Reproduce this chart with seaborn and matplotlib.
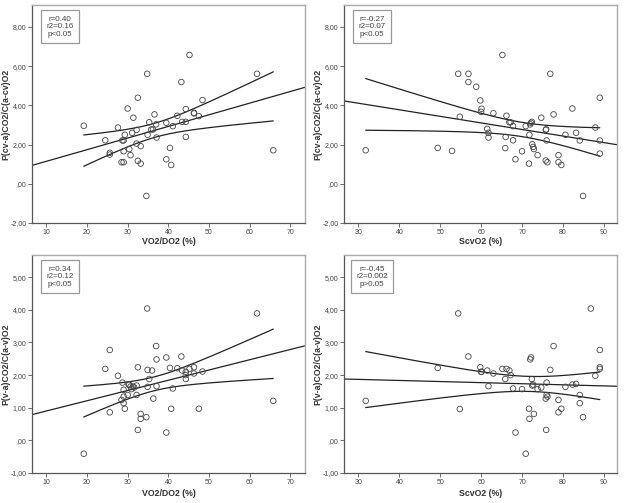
import numpy as np
import pandas as pd
import matplotlib
matplotlib.use("Agg")
import matplotlib.pyplot as plt
import seaborn as sns
from matplotlib.ticker import FuncFormatter, MultipleLocator

# ---------------- data ----------------
p1_x = [19.2, 24.5, 25.6, 25.6, 27.6, 28.5, 29.0, 28.7, 29.0, 29.0, 29.3, 30.0, 30.4, 30.7,
        31.1, 31.4, 32.2, 32.2, 32.5, 32.5, 33.2, 33.2, 34.8, 34.6, 34.9, 35.3, 35.8, 36.2,
        36.6, 37.0, 37.1, 39.5, 39.5, 40.4, 40.7, 41.1, 42.2, 43.2, 43.4, 44.3, 44.3, 44.3,
        45.2, 46.3, 46.3, 47.5, 48.4, 61.8, 65.8]
p1_y = [2.96, 2.22, 1.58, 1.49, 2.87, 1.10, 1.10, 2.21, 2.21, 1.66, 2.50, 3.84, 1.77, 1.46,
        2.60, 3.37, 2.75, 2.05, 1.17, 4.39, 1.03, 1.92, 5.61, -0.62, 2.50, 3.14, 2.77, 2.77,
        3.54, 3.03, 2.36, 3.11, 1.25, 1.83, 0.96, 2.94, 3.47, 5.19, 3.16, 3.81, 3.16, 2.39,
        6.57, 3.62, 3.59, 3.45, 4.27, 5.61, 1.71]

p2_x = [31.8, 49.4, 52.9, 54.4, 54.8, 56.9, 56.9, 58.8, 59.8, 60.1, 60.0, 61.5, 61.8, 61.8,
        63.0, 65.2, 65.9, 66.0, 66.2, 66.9, 67.2, 67.8, 67.8, 68.4, 70.0, 70.9, 71.7, 71.8,
        72.0, 72.2, 72.4, 72.5, 72.7, 72.9, 73.8, 74.7, 75.8, 75.9, 75.8, 76.0, 76.2, 76.9,
        77.7, 78.9, 78.9, 79.6, 80.6, 82.3, 83.2, 84.1, 84.9, 87.9, 89.0, 89.0, 89.0]
p2_y = [1.71, 1.83, 1.68, 5.61, 3.42, 5.61, 5.19, 4.95, 4.25, 3.83, 3.67, 2.80, 2.60, 2.36,
        3.60, 6.57, 1.82, 2.39, 3.47, 3.14, 3.14, 2.94, 2.22, 1.25, 1.66, 2.94, 1.03, 2.50,
        3.03, 3.11, 3.16, 2.02, 1.88, 1.77, 1.46, 3.37, 2.75, 2.78, 1.19, 2.21, 1.10, 5.61,
        3.54, 1.46, 1.10, 0.96, 2.50, 3.84, 2.60, 2.21, -0.62, 2.87, 4.39, 2.21, 1.54]

p3_x = [19.2, 24.5, 25.6, 25.6, 27.6, 28.5, 28.7, 29.0, 29.0, 29.0, 29.3, 30.0, 30.2, 30.4,
        30.7, 30.9, 31.3, 31.6, 32.2, 32.2, 32.5, 32.5, 33.2, 33.2, 34.8, 34.6, 34.9, 34.9,
        35.3, 36.0, 36.3, 37.0, 37.1, 37.1, 39.5, 39.5, 40.4, 40.7, 41.1, 42.2, 43.2, 43.4,
        44.3, 44.3, 44.3, 45.2, 46.3, 46.3, 47.5, 48.4, 61.8, 65.8]
p3_y = [-0.41, 2.19, 2.77, 0.86, 1.98, 1.24, 1.77, 1.55, 1.34, 1.14, 0.97, 1.39, 1.71, 1.71,
        1.65, 1.57, 1.65, 1.62, 1.68, 1.39, 0.32, 2.24, 0.81, 0.66, 4.04, 0.71, 2.16, 1.64,
        1.88, 2.14, 1.28, 2.89, 2.48, 1.66, 2.54, 0.24, 2.22, 0.97, 1.59, 2.21, 2.57, 2.14,
        2.10, 2.00, 1.88, 2.19, 2.24, 2.05, 0.97, 2.11, 3.89, 1.21]

p4_x = [31.8, 49.4, 54.4, 54.8, 56.9, 59.8, 60.0, 60.1, 61.5, 61.8, 63.0, 65.2, 65.9, 66.2,
        66.9, 67.2, 67.8, 68.4, 70.0, 70.9, 71.7, 71.8, 72.0, 72.2, 72.4, 72.5, 72.7, 72.9,
        73.8, 74.7, 75.8, 75.9, 76.0, 76.0, 76.2, 76.9, 77.7, 78.9, 78.9, 79.6, 80.6, 82.3,
        83.2, 84.1, 84.1, 84.9, 87.9, 86.8, 89.0, 89.0, 89.0]
p4_y = [1.21, 2.22, 3.89, 0.96, 2.57, 2.24, 2.10, 2.10, 2.14, 1.66, 2.05, 2.19, 1.88, 2.19,
        2.14, 2.00, 1.59, 0.24, 1.57, -0.41, 0.97, 0.66, 2.48, 2.54, 1.88, 1.68, 1.71, 0.81,
        1.57, 1.62, 1.28, 0.32, 1.77, 1.39, 1.34, 2.16, 2.89, 1.24, 0.86, 0.97, 1.64, 1.71,
        1.73, 1.39, 1.14, 0.71, 1.98, 4.04, 2.77, 2.24, 2.19]

x_labels = ["VO2/DO2 (%)", "ScvO2 (%)", "VO2/DO2 (%)", "ScvO2 (%)"]
y_labels = ["P(cv-a)CO2/C(a-cv)O2", "P(cv-a)CO2/C(a-cv)O2",
            "P(v-a)CO2/C(a-v)O2", "P(v-a)CO2/C(a-v)O2"]
stats_text = ["r=0.40\nr2=0.16\np<0.05", "r=-0.27\nr2=0.07\np<0.05",
              "r=0.34\nr2=0.12\np<0.05", "r=-0.45\nr2=0.002\np>0.05"]

# ---------------- styling ----------------
sns.set_style("white")
plt.rcParams["font.family"] = ["Liberation Sans", "DejaVu Sans"]

W, H = 624, 503
fig = plt.figure(figsize=(W / 100, H / 100), dpi=100)

boxes = [(32, 5, 305, 223), (344, 5, 617, 223), (32, 255, 305, 473), (344, 255, 617, 473)]
xlims = [(6.48, 73.6), (26.5, 93.2), (6.48, 73.6), (26.5, 93.2)]
ylims = [(-2.0, 9.12), (-2.0, 9.12), (-1.0, 5.68), (-1.0, 5.68)]
xticks = [np.arange(10, 71, 10), np.arange(30, 91, 10), np.arange(10, 71, 10), np.arange(30, 91, 10)]
ysteps = [2, 2, 1, 1]
xlabel_off = [18.0, 18.0, 20.0, 20.0]

def fmt(v, pos):
    s = f"{v:.2f}".replace(".", ",")
    if s.startswith("0,"):
        s = s[1:]
    if s.startswith("-0,"):
        s = s[2:]
    return s

panels = [(p1_x, p1_y), (p2_x, p2_y), (p3_x, p3_y), (p4_x, p4_y)]

for i, (xs, ys) in enumerate(panels):
    l, t, r, b = boxes[i]
    aw, ah = r - l, b - t
    ax = fig.add_axes([l / W, 1 - b / H, aw / W, ah / H])
    df = pd.DataFrame({"x": xs, "y": ys})
    ax.set_xlim(*xlims[i])
    ax.set_ylim(*ylims[i])

    sns.scatterplot(data=df, x="x", y="y", ax=ax, marker="o", s=16,
                    facecolor="none", edgecolor="#444444", linewidth=0.6, zorder=3)
    sns.regplot(data=df, x="x", y="y", ax=ax, scatter=False, ci=None, truncate=False,
                line_kws=dict(color="#222222", lw=0.9))

    # 95% confidence interval of the mean (computed from data)
    xa = np.asarray(xs, float)
    ya = np.asarray(ys, float)
    n = len(xa)
    bcoef = np.polyfit(xa, ya, 1)
    resid = ya - np.polyval(bcoef, xa)
    s_err = np.sqrt(np.sum(resid ** 2) / (n - 2))
    xg = np.linspace(xa.min(), xa.max(), 200)
    se = s_err * np.sqrt(1 / n + (xg - xa.mean()) ** 2 / np.sum((xa - xa.mean()) ** 2))
    tval = 2.01
    yg = np.polyval(bcoef, xg)
    ax.plot(xg, yg + tval * se, color="#222222", lw=0.9)
    ax.plot(xg, yg - tval * se, color="#222222", lw=0.9)

    ax.set_xlim(*xlims[i])
    ax.set_ylim(*ylims[i])
    ax.set_xticks(xticks[i])
    ax.yaxis.set_major_locator(MultipleLocator(ysteps[i]))
    ax.yaxis.set_major_formatter(FuncFormatter(fmt))
    ax.tick_params(axis="both", which="major", labelsize=5, colors="#555555",
                   length=3, width=0.6, direction="out", pad=1,
                   left=True, bottom=True, labelcolor="#444444")

    ax.set_xlabel(x_labels[i], fontsize=6.3, fontweight="bold", color="#333333")
    ax.set_ylabel(y_labels[i], fontsize=6.3, fontweight="bold", color="#333333")
    ax.xaxis.set_label_coords(0.5, -xlabel_off[i] / ah)
    ax.yaxis.set_label_coords(-26.0 / aw, 0.5)
    ax.xaxis.label.set_va("center")
    ax.yaxis.label.set_va("center")

    for side in ["left", "bottom"]:
        ax.spines[side].set_color("#555555")
        ax.spines[side].set_linewidth(0.9)
    for side in ["top", "right"]:
        ax.spines[side].set_color("#aaaaaa")
        ax.spines[side].set_linewidth(1.0)

    ax.text(28.0 / aw, 1 - 11.0 / ah, stats_text[i], transform=ax.transAxes,
            ha="center", va="top", fontsize=5.8, color="#444444", linespacing=1.05,
            bbox=dict(boxstyle="square,pad=0.7", facecolor="white",
                      edgecolor="#999999", linewidth=0.9))

fig.savefig("out.png", dpi=100)
